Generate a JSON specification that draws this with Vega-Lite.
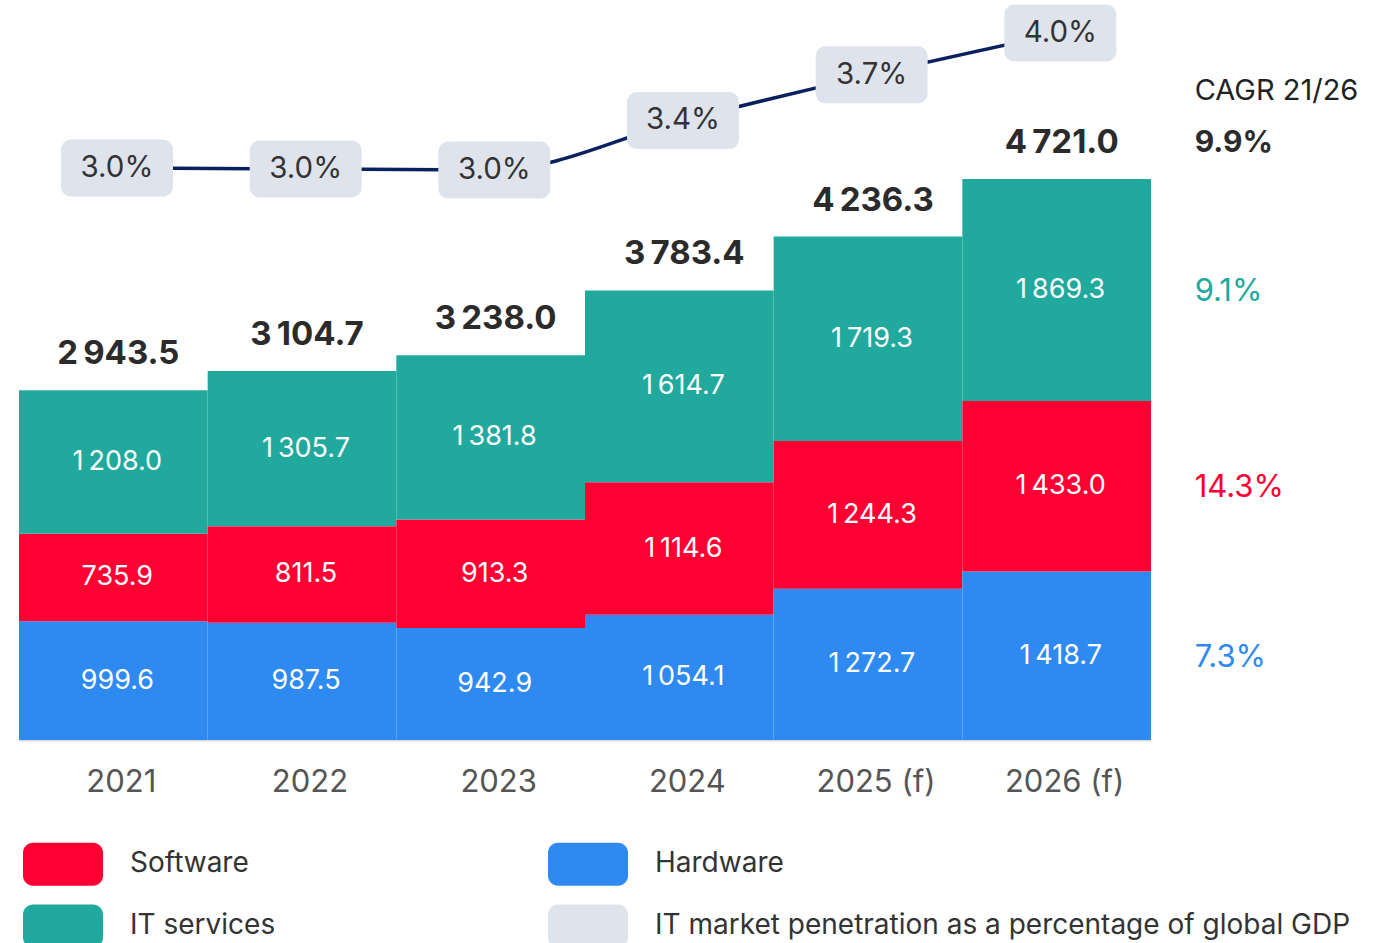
{
  "$schema": "https://vega.github.io/schema/vega-lite/v6.json",
  "width": 1132,
  "height": 740,
  "padding": {"left": 19, "top": 0, "right": 0, "bottom": 0},
  "background": "white",
  "config": {
    "view": {"stroke": null},
    "font": "Inter",
    "locale": {"number": {"decimal": ".", "thousands": "\u2009", "grouping": [3], "currency": ["$", ""]}}
  },
  "datasets": {
    "it": [
      {"year": "2021", "category": "Hardware", "value": 999.6, "cagr": "7.3%"},
      {"year": "2021", "category": "Software", "value": 735.9, "cagr": "14.3%"},
      {"year": "2021", "category": "IT services", "value": 1208.0, "cagr": "9.1%"},
      {"year": "2022", "category": "Hardware", "value": 987.5, "cagr": "7.3%"},
      {"year": "2022", "category": "Software", "value": 811.5, "cagr": "14.3%"},
      {"year": "2022", "category": "IT services", "value": 1305.7, "cagr": "9.1%"},
      {"year": "2023", "category": "Hardware", "value": 942.9, "cagr": "7.3%"},
      {"year": "2023", "category": "Software", "value": 913.3, "cagr": "14.3%"},
      {"year": "2023", "category": "IT services", "value": 1381.8, "cagr": "9.1%"},
      {"year": "2024", "category": "Hardware", "value": 1054.1, "cagr": "7.3%"},
      {"year": "2024", "category": "Software", "value": 1114.6, "cagr": "14.3%"},
      {"year": "2024", "category": "IT services", "value": 1614.7, "cagr": "9.1%"},
      {"year": "2025 (f)", "category": "Hardware", "value": 1272.7, "cagr": "7.3%"},
      {"year": "2025 (f)", "category": "Software", "value": 1244.3, "cagr": "14.3%"},
      {"year": "2025 (f)", "category": "IT services", "value": 1719.3, "cagr": "9.1%"},
      {"year": "2026 (f)", "category": "Hardware", "value": 1418.7, "cagr": "7.3%"},
      {"year": "2026 (f)", "category": "Software", "value": 1433.0, "cagr": "14.3%"},
      {"year": "2026 (f)", "category": "IT services", "value": 1869.3, "cagr": "9.1%"}
    ],
    "gdp": [
      {"year": "2021", "gdp": 0.0300},
      {"year": "2022", "gdp": 0.02993},
      {"year": "2023", "gdp": 0.02985},
      {"year": "2024", "gdp": 0.03352},
      {"year": "2025 (f)", "gdp": 0.0369},
      {"year": "2026 (f)", "gdp": 0.0400}
    ]
  },
  "resolve": {"scale": {"y": "independent"}},
  "layer": [
    {
      "data": {"name": "it"},
      "transform": [{"stack": "value", "groupby": ["year"], "as": ["v0", "v1"]}],
      "mark": {"type": "bar"},
      "encoding": {
        "x": {
          "field": "year", "type": "nominal",
          "scale": {"domain": ["2021", "2022", "2023", "2024", "2025 (f)", "2026 (f)"], "paddingInner": 0, "paddingOuter": 0},
          "axis": {"title": null, "labelAngle": 0, "labelFontSize": 31, "labelColor": "#555555", "labelFont": "Inter", "ticks": false, "domainColor": "#dddddd", "domainWidth": 2, "labelPadding": 27, "labelOffset": 8}
        },
        "y": {"field": "v0", "type": "quantitative", "scale": {"domain": [0, 6227], "nice": false, "zero": true}, "axis": null},
        "y2": {"field": "v1"},
        "color": {
          "field": "category", "type": "nominal",
          "scale": {
            "domain": ["Software", "IT services", "Hardware", "IT market penetration as a percentage of global GDP"],
            "range": ["#ff0033", "#22a99d", "#2e8af1", "#dfe4ec"]
          },
          "legend": {
            "title": null, "orient": "none", "legendX": 4, "legendY": 824, "columns": 2,
            "symbolType": "M-0.75,-0.5375H0.75A0.25,0.25 0 0 1 1,-0.2875V0.2875A0.25,0.25 0 0 1 0.75,0.5375H-0.75A0.25,0.25 0 0 1 -1,0.2875V-0.2875A0.25,0.25 0 0 1 -0.75,-0.5375Z",
            "symbolSize": 6400, "symbolStrokeWidth": 0, "symbolOpacity": 1,
            "labelFontSize": 28, "labelColor": "#333333", "labelFont": "Inter", "labelOffset": 27, "labelLimit": 900,
            "columnPadding": 272, "rowPadding": -17, "padding": 0
          }
        }
      }
    },
    {
      "data": {"name": "it"},
      "transform": [
        {"stack": "value", "groupby": ["year"], "as": ["v0", "v1"]},
        {"fold": ["v0", "v1"], "as": ["edge_key", "edge"]}
      ],
      "mark": {"type": "text", "color": "white", "fontSize": 27, "dx": 4, "baseline": "middle"},
      "encoding": {
        "x": {"field": "year", "type": "nominal"},
        "y": {"aggregate": "mean", "field": "edge", "type": "quantitative", "scale": {"domain": [0, 6227], "nice": false}, "axis": null},
        "text": {"field": "value", "type": "quantitative", "format": ",.1f"}
      }
    },
    {
      "data": {"name": "it"},
      "mark": {"type": "text", "color": "#2b2b2b", "fontSize": 33, "fontWeight": "bold", "dx": 5, "dy": -36, "baseline": "middle"},
      "encoding": {
        "x": {"field": "year", "type": "nominal"},
        "y": {"aggregate": "sum", "field": "value", "type": "quantitative", "scale": {"domain": [0, 6227], "nice": false}, "axis": null},
        "text": {"aggregate": "sum", "field": "value", "type": "quantitative", "format": ",.1f"}
      }
    },
    {
      "data": {"name": "it"},
      "transform": [
        {"filter": "datum.year == '2026 (f)'"},
        {"stack": "value", "groupby": ["year"], "as": ["v0", "v1"]},
        {"fold": ["v0", "v1"], "as": ["edge_key", "edge"]}
      ],
      "mark": {"type": "text", "fontSize": 31, "dx": 138, "dy": 2, "align": "left", "baseline": "middle"},
      "encoding": {
        "x": {"field": "year", "type": "nominal"},
        "y": {"aggregate": "mean", "field": "edge", "type": "quantitative", "scale": {"domain": [0, 6227], "nice": false}, "axis": null},
        "color": {"field": "category", "type": "nominal"},
        "text": {"field": "cagr", "type": "nominal"}
      }
    },
    {
      "data": {"name": "it"},
      "transform": [{"filter": "datum.year == '2026 (f)'"}],
      "mark": {"type": "text", "color": "#2b2b2b", "fontSize": 30, "fontWeight": "bold", "dx": 138, "dy": -36, "align": "left", "baseline": "middle"},
      "encoding": {
        "x": {"field": "year", "type": "nominal"},
        "y": {"aggregate": "sum", "field": "value", "type": "quantitative", "scale": {"domain": [0, 6227], "nice": false}, "axis": null},
        "text": {"value": "9.9%"}
      }
    },
    {
      "data": {"name": "it"},
      "transform": [{"filter": "datum.year == '2026 (f)'"}],
      "mark": {"type": "text", "color": "#222222", "fontSize": 29, "dx": 138, "dy": -88, "align": "left", "baseline": "middle"},
      "encoding": {
        "x": {"field": "year", "type": "nominal"},
        "y": {"aggregate": "sum", "field": "value", "type": "quantitative", "scale": {"domain": [0, 6227], "nice": false}, "axis": null},
        "text": {"value": "CAGR 21/26"}
      }
    },
    {
      "data": {"name": "gdp"},
      "mark": {"type": "line", "color": "#0a215e", "strokeWidth": 3.5, "interpolate": "monotone"},
      "encoding": {
        "x": {"field": "year", "type": "nominal"},
        "xOffset": {"value": 98},
        "y": {"field": "gdp", "type": "quantitative", "scale": {"domain": [-0.01237, 0.042444], "nice": false, "zero": false}, "axis": null}
      }
    },
    {
      "data": {"name": "gdp"},
      "mark": {
        "type": "point", "filled": true, "opacity": 1, "fill": "#dfe4ec", "strokeWidth": 0, "size": 12544,
        "shape": "M-0.82,-0.509H0.82A0.18,0.18 0 0 1 1,-0.329V0.329A0.18,0.18 0 0 1 0.82,0.509H-0.82A0.18,0.18 0 0 1 -1,0.329V-0.329A0.18,0.18 0 0 1 -0.82,-0.509Z"
      },
      "encoding": {
        "x": {"field": "year", "type": "nominal"},
        "xOffset": {"value": 98},
        "y": {"field": "gdp", "type": "quantitative", "scale": {"domain": [-0.01237, 0.042444], "nice": false, "zero": false}, "axis": null}
      }
    },
    {
      "data": {"name": "gdp"},
      "mark": {"type": "text", "color": "#333333", "fontSize": 29.5, "baseline": "middle"},
      "encoding": {
        "x": {"field": "year", "type": "nominal"},
        "xOffset": {"value": 98},
        "y": {"field": "gdp", "type": "quantitative", "scale": {"domain": [-0.01237, 0.042444], "nice": false, "zero": false}, "axis": null},
        "text": {"field": "gdp", "type": "quantitative", "format": ".1%"}
      }
    }
  ]
}
